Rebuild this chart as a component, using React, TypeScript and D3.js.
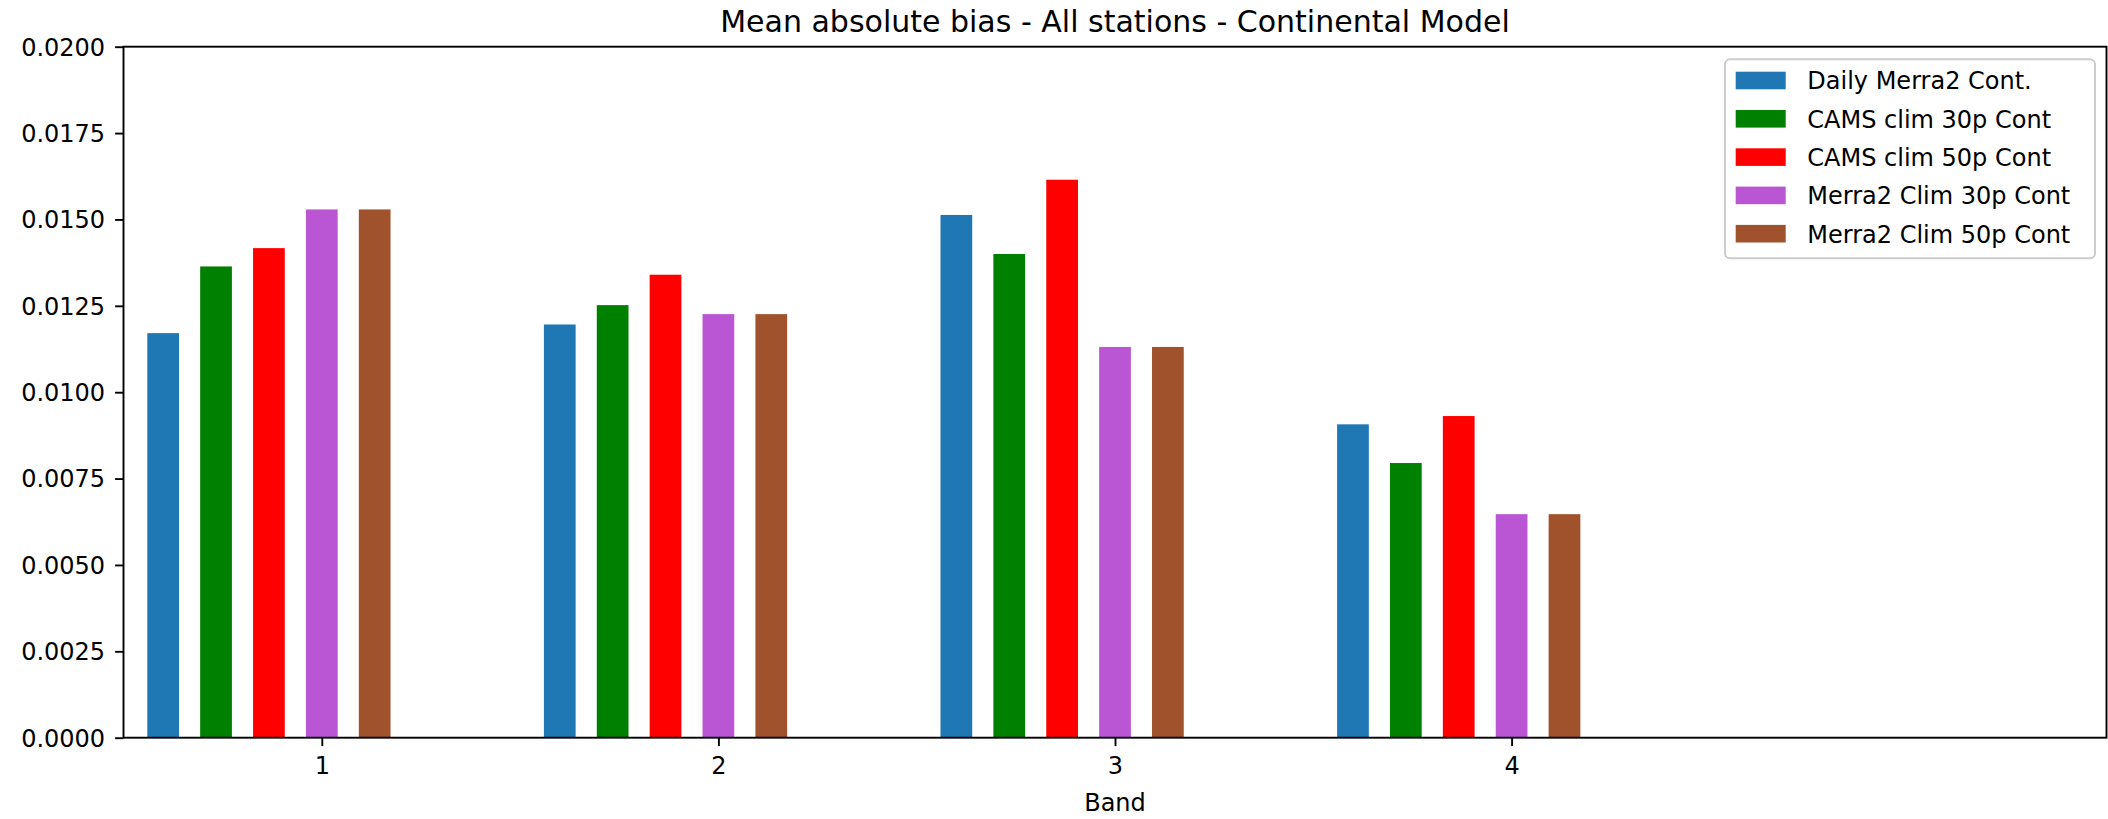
import React, { useRef, useEffect } from "react"
import * as d3 from "d3"

// chart data
const bands = [1, 2, 3, 4]
const seriesNames = [
  "Daily Merra2 Cont.",
  "CAMS clim 30p Cont",
  "CAMS clim 50p Cont",
  "Merra2 Clim 30p Cont",
  "Merra2 Clim 50p Cont",
]
const seriesColors = ["#1f77b4", "#008000", "#ff0000", "#ba55d3", "#a0522d"]
const dailyMerra2 = [0.01171, 0.01196, 0.01513, 0.00907]
const camsClim30 = [0.01364, 0.01252, 0.0140, 0.00795]
const camsClim50 = [0.01417, 0.0134, 0.01615, 0.00931]
const merra2Clim30 = [0.01529, 0.01226, 0.01131, 0.00647]
const merra2Clim50 = [0.01529, 0.01226, 0.01131, 0.00647]
const seriesValues = [dailyMerra2, camsClim30, camsClim50, merra2Clim30, merra2Clim50]
const yTicks = [0, 0.0025, 0.005, 0.0075, 0.01, 0.0125, 0.015, 0.0175, 0.02]
const xTickLabels = ["1", "2", "3", "4"]

const W = 2108
const H = 819

const App = () => {
  const ref = useRef<SVGSVGElement>(null)

  useEffect(() => {
    const svg = d3.select(ref.current)
    svg.selectAll("*").remove()

    const left = 123.5, right = 2106.5, top = 46.7, bottom = 737.7
    const x = d3.scaleLinear().domain([0.5, 5.5]).range([left, right])
    const y = d3.scaleLinear().domain([0, 0.02]).range([bottom, top])
    const step = 0.4 / 3   // spacing between bars in a group
    const barW = 0.08
    const font = "'DejaVu Sans', sans-serif"

    // bars
    seriesValues.forEach((vals, si) => {
      svg.append("g")
        .selectAll("rect")
        .data(vals)
        .enter()
        .append("rect")
          .attr("x", (d, i) => x(bands[i] + (si - 3) * step - barW / 2))
          .attr("width", x(barW) - x(0))
          .attr("y", d => y(d))
          .attr("height", d => y(0) - y(d))
          .attr("fill", seriesColors[si])
    })

    // y axis
    const yAxis = svg.append("g")
      .attr("transform", `translate(${left},0)`)
      .call(d3.axisLeft(y).tickValues(yTicks).tickFormat(d3.format(".4f")).tickSize(8.4).tickPadding(10))
    yAxis.select(".domain").remove()
    yAxis.selectAll("line").attr("stroke", "#000").attr("stroke-width", 1.9)
    yAxis.selectAll("text").attr("font-family", font).attr("font-size", 24).attr("fill", "#000").attr("dy", "0.35em")

    // x axis
    const xAxis = svg.append("g")
      .attr("transform", `translate(0,${bottom})`)
      .call(d3.axisBottom(x).tickValues(bands).tickFormat((d, i) => xTickLabels[i]).tickSize(8.4).tickPadding(10))
    xAxis.select(".domain").remove()
    xAxis.selectAll("line").attr("stroke", "#000").attr("stroke-width", 1.9)
    xAxis.selectAll("text").attr("font-family", font).attr("font-size", 24).attr("fill", "#000").attr("dy", "0.76em")

    // frame
    svg.append("rect")
      .attr("x", left).attr("y", top)
      .attr("width", right - left).attr("height", bottom - top)
      .attr("fill", "none").attr("stroke", "#000").attr("stroke-width", 1.9)

    // titles
    svg.append("text")
      .attr("x", (left + right) / 2).attr("y", 31.5)
      .attr("text-anchor", "middle")
      .attr("font-family", font).attr("font-size", 30)
      .text("Mean absolute bias - All stations - Continental Model")
    svg.append("text")
      .attr("x", (left + right) / 2).attr("y", 811)
      .attr("text-anchor", "middle")
      .attr("font-family", font).attr("font-size", 24)
      .text("Band")

    // legend
    const lg = svg.append("g").attr("transform", "translate(1725,59.3)")
    lg.append("rect")
      .attr("width", 370).attr("height", 199)
      .attr("rx", 5)
      .attr("fill", "#fff").attr("fill-opacity", 0.8)
      .attr("stroke", "#cccccc").attr("stroke-width", 2)
    const rowH = 38.3
    const items = lg.selectAll("g.item")
      .data(seriesNames)
      .enter()
      .append("g")
        .attr("transform", (d, i) => `translate(0,${21.2 + i * rowH})`)
    items.append("rect")
      .attr("x", 10.7).attr("y", -8.8)
      .attr("width", 50).attr("height", 17.6)
      .attr("fill", (d, i) => seriesColors[i])
    items.append("text")
      .attr("x", 82.3).attr("y", 8.8)
      .attr("font-family", font).attr("font-size", 24)
      .text(d => d)
  }, [])

  return (
    <div style={{ position: "fixed", left: 0, top: 0 }}>
      <svg ref={ref} width={W} height={H} style={{ display: "block", background: "#fff" }}></svg>
    </div>
  )
}

export default App
